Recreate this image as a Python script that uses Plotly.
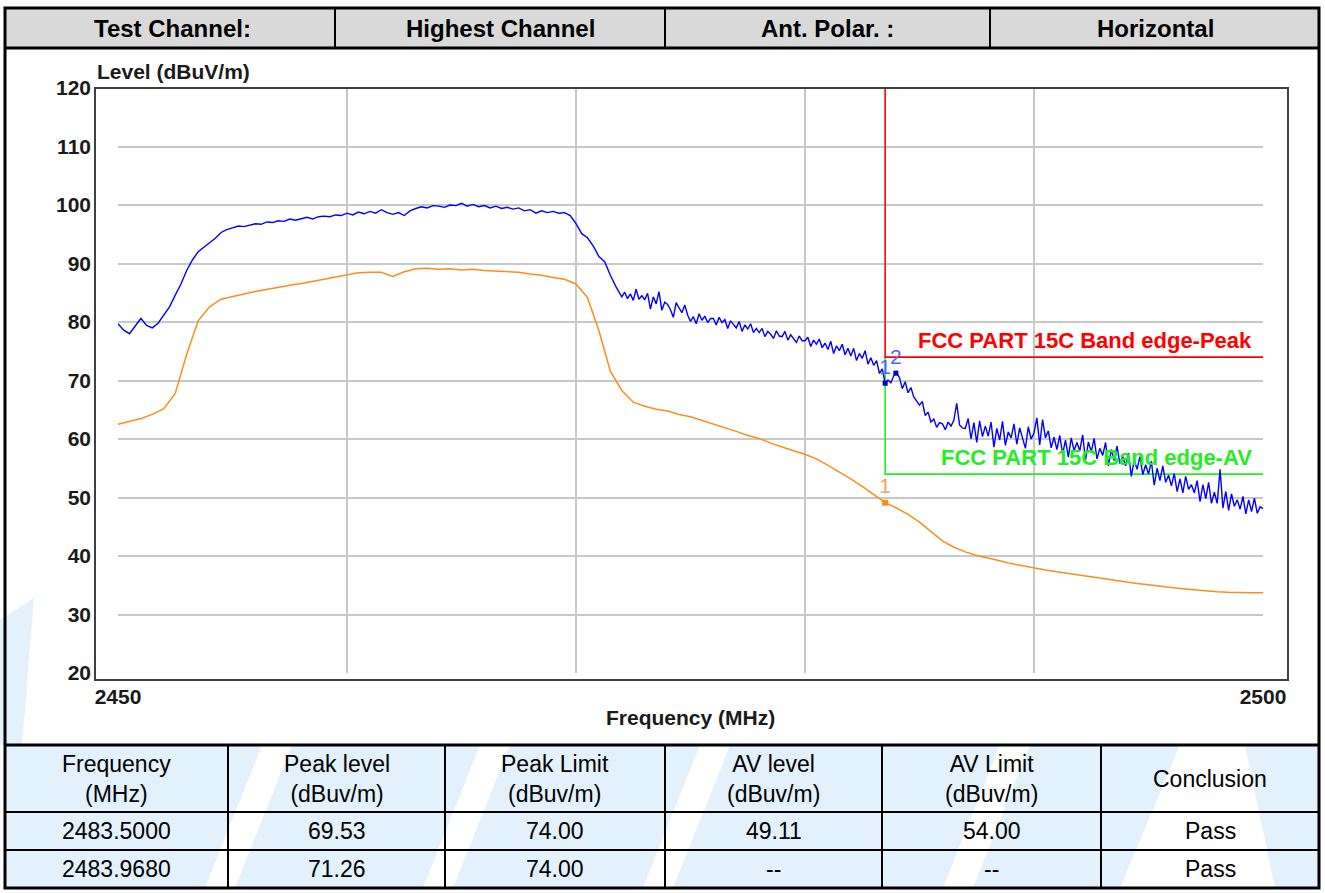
import plotly.graph_objects as go

W, H = 1325, 893

# ---------------- data ----------------
# peak trace, coarse sweep part (2450 - 2471.75 MHz, 0.25 MHz step)
peak_a_start, peak_a_step = 2450.0, 0.25
peak_level_a = [
    79.7, 78.6, 78.0, 79.2,  80.6, 79.4, 79.0, 79.8,  81.2, 82.6, 84.6, 86.5,
    88.8, 90.6, 92.0, 92.8,  93.6, 94.3, 95.3, 95.8,  96.1, 96.4, 96.3, 96.6,
    96.8, 96.7, 97.1, 97.0,  97.3, 97.2, 97.6, 97.4,  97.7, 97.9, 97.6, 98.0,
    98.1, 98.0, 98.3, 98.2,  98.6, 98.3, 98.8, 98.5,  98.9, 98.6, 99.2, 98.7,
    98.4, 98.7, 98.2, 99.0,  99.4, 99.7, 99.5, 99.9,  99.8, 99.6, 100.0, 99.9,
    100.3, 99.8, 100.1, 99.7, 99.9, 99.5, 99.8, 99.4, 99.6, 99.3, 99.5, 99.0,
    99.2, 98.6, 99.0, 98.7,  98.9, 98.6, 98.7, 98.2,  96.8, 95.1, 94.4, 93.0,
    91.2, 90.3, 88.0, 86.0,
]
# peak trace, fine part (2472 - 2500 MHz, 0.125 MHz step)
peak_b_start, peak_b_step = 2472.0, 0.125
peak_level_b = [
    84.3, 85.1, 84.0, 84.8, 83.7, 85.6, 83.9, 84.5,
    83.8, 84.9, 82.2, 84.3, 83.1, 85.2, 82.0, 83.4,
    83.0, 82.1, 80.8, 83.3, 82.4, 81.6, 82.9, 81.2,
    80.1, 80.9, 79.7, 81.4, 80.3, 81.0, 79.9, 80.6,
    80.6, 79.5, 80.8, 79.9, 80.4, 78.9, 80.2, 79.6,
    79.0, 80.1, 78.4, 79.5, 78.8, 79.7, 78.2, 78.9,
    78.2, 78.9, 77.5, 78.4, 77.9, 77.2, 78.5, 77.6,
    77.5, 78.4, 76.9, 77.8, 77.2, 76.5, 77.6, 76.8,
    76.8, 77.4, 75.8, 76.9, 76.2, 77.1, 75.6, 76.4,
    75.3, 76.7, 74.6, 75.9, 75.1, 76.2, 74.4, 75.5,
    74.2, 75.5, 73.4, 74.6, 73.8, 75.1, 72.8, 73.9,
    72.6, 73.4, 71.2, 72.0, 69.53, 70.1, 69.6, 70.8,
    71.26, 70.5, 68.6, 69.8, 67.9, 68.8, 67.2, 66.4,
    65.8, 66.4, 64.0, 64.6, 62.9, 63.4, 62.0, 62.8,
    62.6, 61.6, 62.9, 62.2, 63.2, 66.1, 62.4, 61.9,
    61.8, 63.5, 60.0, 62.8, 59.4, 63.1, 60.4, 62.2,
    60.5, 62.9, 58.6, 61.8, 59.8, 63.0, 58.9, 61.2,
    60.2, 62.6, 59.1, 61.9, 60.3, 58.4, 62.1, 60.0,
    61.0, 63.6, 59.0, 63.3, 60.2, 61.4, 58.5, 60.3,
    58.2, 60.6, 57.4, 59.8, 56.9, 60.2, 58.0, 59.4,
    58.0, 60.7, 56.4, 59.5, 57.8, 60.1, 56.6, 58.4,
    57.2, 59.4, 55.4, 58.2, 56.3, 58.8, 55.8, 57.0,
    55.4, 57.6, 53.6, 56.4, 54.8, 57.0, 53.9, 55.6,
    54.0, 56.2, 52.1, 55.0, 52.9, 55.4, 52.6, 53.8,
    52.0, 54.1, 51.0, 53.2, 50.8, 53.6, 51.4, 52.2,
    50.8, 52.9, 49.3, 52.2, 49.8, 52.6, 49.0, 50.9,
    49.0, 54.8, 48.2, 51.0, 47.8, 50.6, 48.5, 49.6,
    48.0, 50.2, 47.2, 49.6, 47.6, 49.9, 47.3, 48.4,
    48.1,
]
peak_freq = ([peak_a_start + i * peak_a_step for i in range(len(peak_level_a))]
             + [peak_b_start + i * peak_b_step for i in range(len(peak_level_b))])
peak_level = peak_level_a + peak_level_b

av_freq_start, av_freq_step = 2450.0, 0.5
av_level = [
    62.5, 63.0, 63.5, 64.2, 65.2, 67.8, 74.5, 80.2, 82.6, 83.9,
    84.4, 84.8, 85.2, 85.6, 85.9, 86.3, 86.6, 86.9, 87.3, 87.7,
    88.0, 88.4, 88.5, 88.5, 87.8, 88.6, 89.1, 89.2, 89.0, 89.1,
    88.9, 89.0, 88.8, 88.7, 88.6, 88.5, 88.2, 88.0, 87.6, 87.3,
    86.5, 84.2, 78.5, 71.6, 68.3, 66.3, 65.6, 65.1, 64.8, 64.2,
    63.8, 63.2, 62.5, 62.0, 61.3, 60.6, 60.1, 59.3, 58.6, 58.0,
    57.4, 56.6, 55.5, 54.4, 53.2, 51.9, 50.5, 49.11, 48.2, 47.1,
    45.8, 44.2, 42.6, 41.5, 40.7, 40.1, 39.7, 39.2, 38.7, 38.3,
    37.9, 37.6, 37.3, 37.0, 36.7, 36.5, 36.2, 35.9, 35.6, 35.3,
    35.1, 34.8, 34.6, 34.4, 34.2, 34.0, 33.9, 33.8, 33.7, 33.7,
    33.7,
]
av_freq = [av_freq_start + i * av_freq_step for i in range(len(av_level))]

peak_limit_freq = [2483.5, 2483.5, 2500]
peak_limit_level = [120, 74, 74]
av_limit_freq = [2483.5, 2483.5, 2500]
av_limit_level = [74, 54, 54]

marker_freq = [2483.5, 2483.968]
marker_peak = [69.53, 71.26]
marker_av = [49.11]

x_ticks = [2450, 2460, 2470, 2480, 2490, 2500]
x_ticktext = ["2450", "", "", "", "", "2500"]
y_ticks = [20, 30, 40, 50, 60, 70, 80, 90, 100, 110, 120]

header_cells = ["Test Channel:", "Highest Channel", "Ant. Polar. :", "Horizontal"]
table_head = ["Frequency<br>(MHz)", "Peak level<br>(dBuv/m)", "Peak Limit<br>(dBuv/m)",
              "AV level<br>(dBuv/m)", "AV Limit<br>(dBuv/m)", "Conclusion"]
table_rows = [
    ["2483.5000", "69.53", "74.00", "49.11", "54.00", "Pass"],
    ["2483.9680", "71.26", "74.00", "--", "--", "Pass"],
]

# ---------------- helpers ----------------
def px(x):
    return x / W

def py(y):
    return 1 - y / H

def poly(pts):
    return "M " + " L ".join("%f,%f" % (px(a), py(b)) for a, b in pts) + " Z"

BLUE = "#0000ff"
ORANGE = "#ff8c1a"
RED = "#ff0000"
GREEN = "#22ee22"
WM = "#e2f1fc"
FONT = "Liberation Sans, Arial, sans-serif"

fig = go.Figure()

fig.add_trace(go.Scatter(x=av_limit_freq, y=av_limit_level, mode="lines",
                         line=dict(color=GREEN, width=1.6), hoverinfo="skip"))
fig.add_trace(go.Scatter(x=peak_limit_freq, y=peak_limit_level, mode="lines",
                         line=dict(color=RED, width=1.6), hoverinfo="skip"))
fig.add_trace(go.Scatter(x=av_freq, y=av_level, mode="lines",
                         line=dict(color=ORANGE, width=1.5), hoverinfo="skip"))
fig.add_trace(go.Scatter(x=peak_freq, y=peak_level, mode="lines",
                         line=dict(color=BLUE, width=1.4), hoverinfo="skip"))

# markers
fig.add_trace(go.Scatter(x=marker_freq[:1], y=marker_av, mode="markers+text",
                         marker=dict(symbol="square", size=6, color=ORANGE),
                         text=["1"], textposition="top center",
                         textfont=dict(family=FONT, size=21, color="#f5a35a"),
                         hoverinfo="skip"))
fig.add_trace(go.Scatter(x=marker_freq, y=marker_peak, mode="markers+text",
                         marker=dict(symbol="square", size=5, color="#0000cc"),
                         text=["1", "2"], textposition="top center",
                         textfont=dict(family=FONT, size=21, color="#4a66ff"),
                         hoverinfo="skip"))

shapes = []
# watermark (light blue swooshes)
for pts in [
    [(0, 620), (34, 598), (22, 745), (0, 745)],
    [(5, 745), (262, 745), (205, 888), (5, 888)],
    [(292, 745), (480, 745), (423, 888), (235, 888)],
    [(510, 745), (700, 745), (643, 888), (453, 888)],
    [(730, 745), (1000, 745), (943, 888), (673, 888)],
    [(1030, 745), (1180, 745), (1120, 888), (973, 888)],
    [(1245, 745), (1319, 745), (1319, 888), (1275, 888)],
]:
    shapes.append(dict(type="path", xref="paper", yref="paper", path=poly(pts),
                       fillcolor=WM, line=dict(width=0), layer="below"))
# header gray background
shapes.append(dict(type="rect", xref="paper", yref="paper", x0=px(5), x1=px(1319),
                   y0=py(48), y1=py(8), fillcolor="#d9d9d9", line=dict(width=0), layer="below"))
# chart frame
shapes.append(dict(type="rect", xref="paper", yref="paper", x0=px(95), x1=px(1288),
                   y0=py(680), y1=py(88), line=dict(color="#404040", width=2), layer="above"))
# outer border
shapes.append(dict(type="rect", xref="paper", yref="paper", x0=px(5), x1=px(1319),
                   y0=py(888), y1=py(8), line=dict(color="black", width=3), layer="above"))
# horizontal table lines
for yy, w in [(48, 3), (745, 3), (812, 2), (850, 2)]:
    shapes.append(dict(type="line", xref="paper", yref="paper", x0=px(5), x1=px(1319),
                       y0=py(yy), y1=py(yy), line=dict(color="black", width=w)))
# header vertical dividers
for xx in [335, 665, 990]:
    shapes.append(dict(type="line", xref="paper", yref="paper", x0=px(xx), x1=px(xx),
                       y0=py(48), y1=py(8), line=dict(color="black", width=2)))
# bottom table vertical dividers
for xx in [228, 445, 665, 882, 1101]:
    shapes.append(dict(type="line", xref="paper", yref="paper", x0=px(xx), x1=px(xx),
                       y0=py(888), y1=py(745), line=dict(color="black", width=2)))

annotations = []
for txt, cx in zip(header_cells, [172, 500, 827, 1155]):
    annotations.append(dict(text="<b>%s</b>" % txt, x=px(cx), y=py(29), xref="paper", yref="paper",
                            showarrow=False, xanchor="center", yanchor="middle",
                            font=dict(family=FONT, size=24, color="black")))
col_centers = [116.5, 336.5, 555, 773.5, 991.5, 1210]
for txt, cx in zip(table_head, col_centers):
    annotations.append(dict(text=txt, x=px(cx), y=py(779), xref="paper", yref="paper",
                            showarrow=False, xanchor="center", yanchor="middle",
                            font=dict(family=FONT, size=23, color="black")))
for row, cy in zip(table_rows, [831, 869]):
    for txt, cx in zip(row, col_centers):
        annotations.append(dict(text=txt, x=px(cx), y=py(cy), xref="paper", yref="paper",
                                showarrow=False, xanchor="center", yanchor="middle",
                                font=dict(family=FONT, size=23, color="black")))
# axis titles
annotations.append(dict(text="<b>Level (dBuV/m)</b>", x=px(95), y=py(71), xref="paper", yref="paper",
                        showarrow=False, xanchor="left", yanchor="middle",
                        font=dict(family=FONT, size=21, color="#1a1a1a")))
annotations.append(dict(text="<b>Frequency (MHz)</b>", x=px(690), y=py(717), xref="paper", yref="paper",
                        showarrow=False, xanchor="center", yanchor="middle",
                        font=dict(family=FONT, size=21, color="#1a1a1a")))
# limit labels
annotations.append(dict(text="<b>FCC PART 15C Band edge-Peak</b>", x=2499.6, y=76.8, xref="x", yref="y",
                        showarrow=False, xanchor="right", yanchor="middle",
                        font=dict(family=FONT, size=22, color=RED)))
annotations.append(dict(text="<b>FCC PART 15C Band edge-AV</b>", x=2499.6, y=56.9, xref="x", yref="y",
                        showarrow=False, xanchor="right", yanchor="middle",
                        font=dict(family=FONT, size=22, color=GREEN)))

fig.update_layout(
    width=W, height=H,
    margin=dict(l=0, r=0, t=0, b=0),
    paper_bgcolor="white", plot_bgcolor="white",
    showlegend=False,
    template="none",
    hovermode=False,
    shapes=shapes,
    annotations=annotations,
    xaxis=dict(domain=[px(118), px(1263)], range=[2450, 2500], tickvals=x_ticks, ticktext=x_ticktext,
               showgrid=True, gridcolor="#c8c8c8", gridwidth=2, zeroline=False, showline=False,
               ticks="", ticklabelstandoff=9, automargin=False, fixedrange=True,
               tickfont=dict(family=FONT, size=21, color="#1a1a1a", weight="bold")),
    yaxis=dict(domain=[py(673), py(88)], range=[20, 120], tickvals=y_ticks,
               showgrid=True, gridcolor="#c8c8c8", gridwidth=2, zeroline=False, showline=False,
               ticks="", ticklabelstandoff=26, automargin=False, fixedrange=True,
               tickfont=dict(family=FONT, size=21, color="#1a1a1a", weight="bold")),
)

fig.write_html("out.html",
               config={"displayModeBar": False, "staticPlot": True},
               post_script="document.body.style.margin='0';document.body.style.overflow='hidden';")
